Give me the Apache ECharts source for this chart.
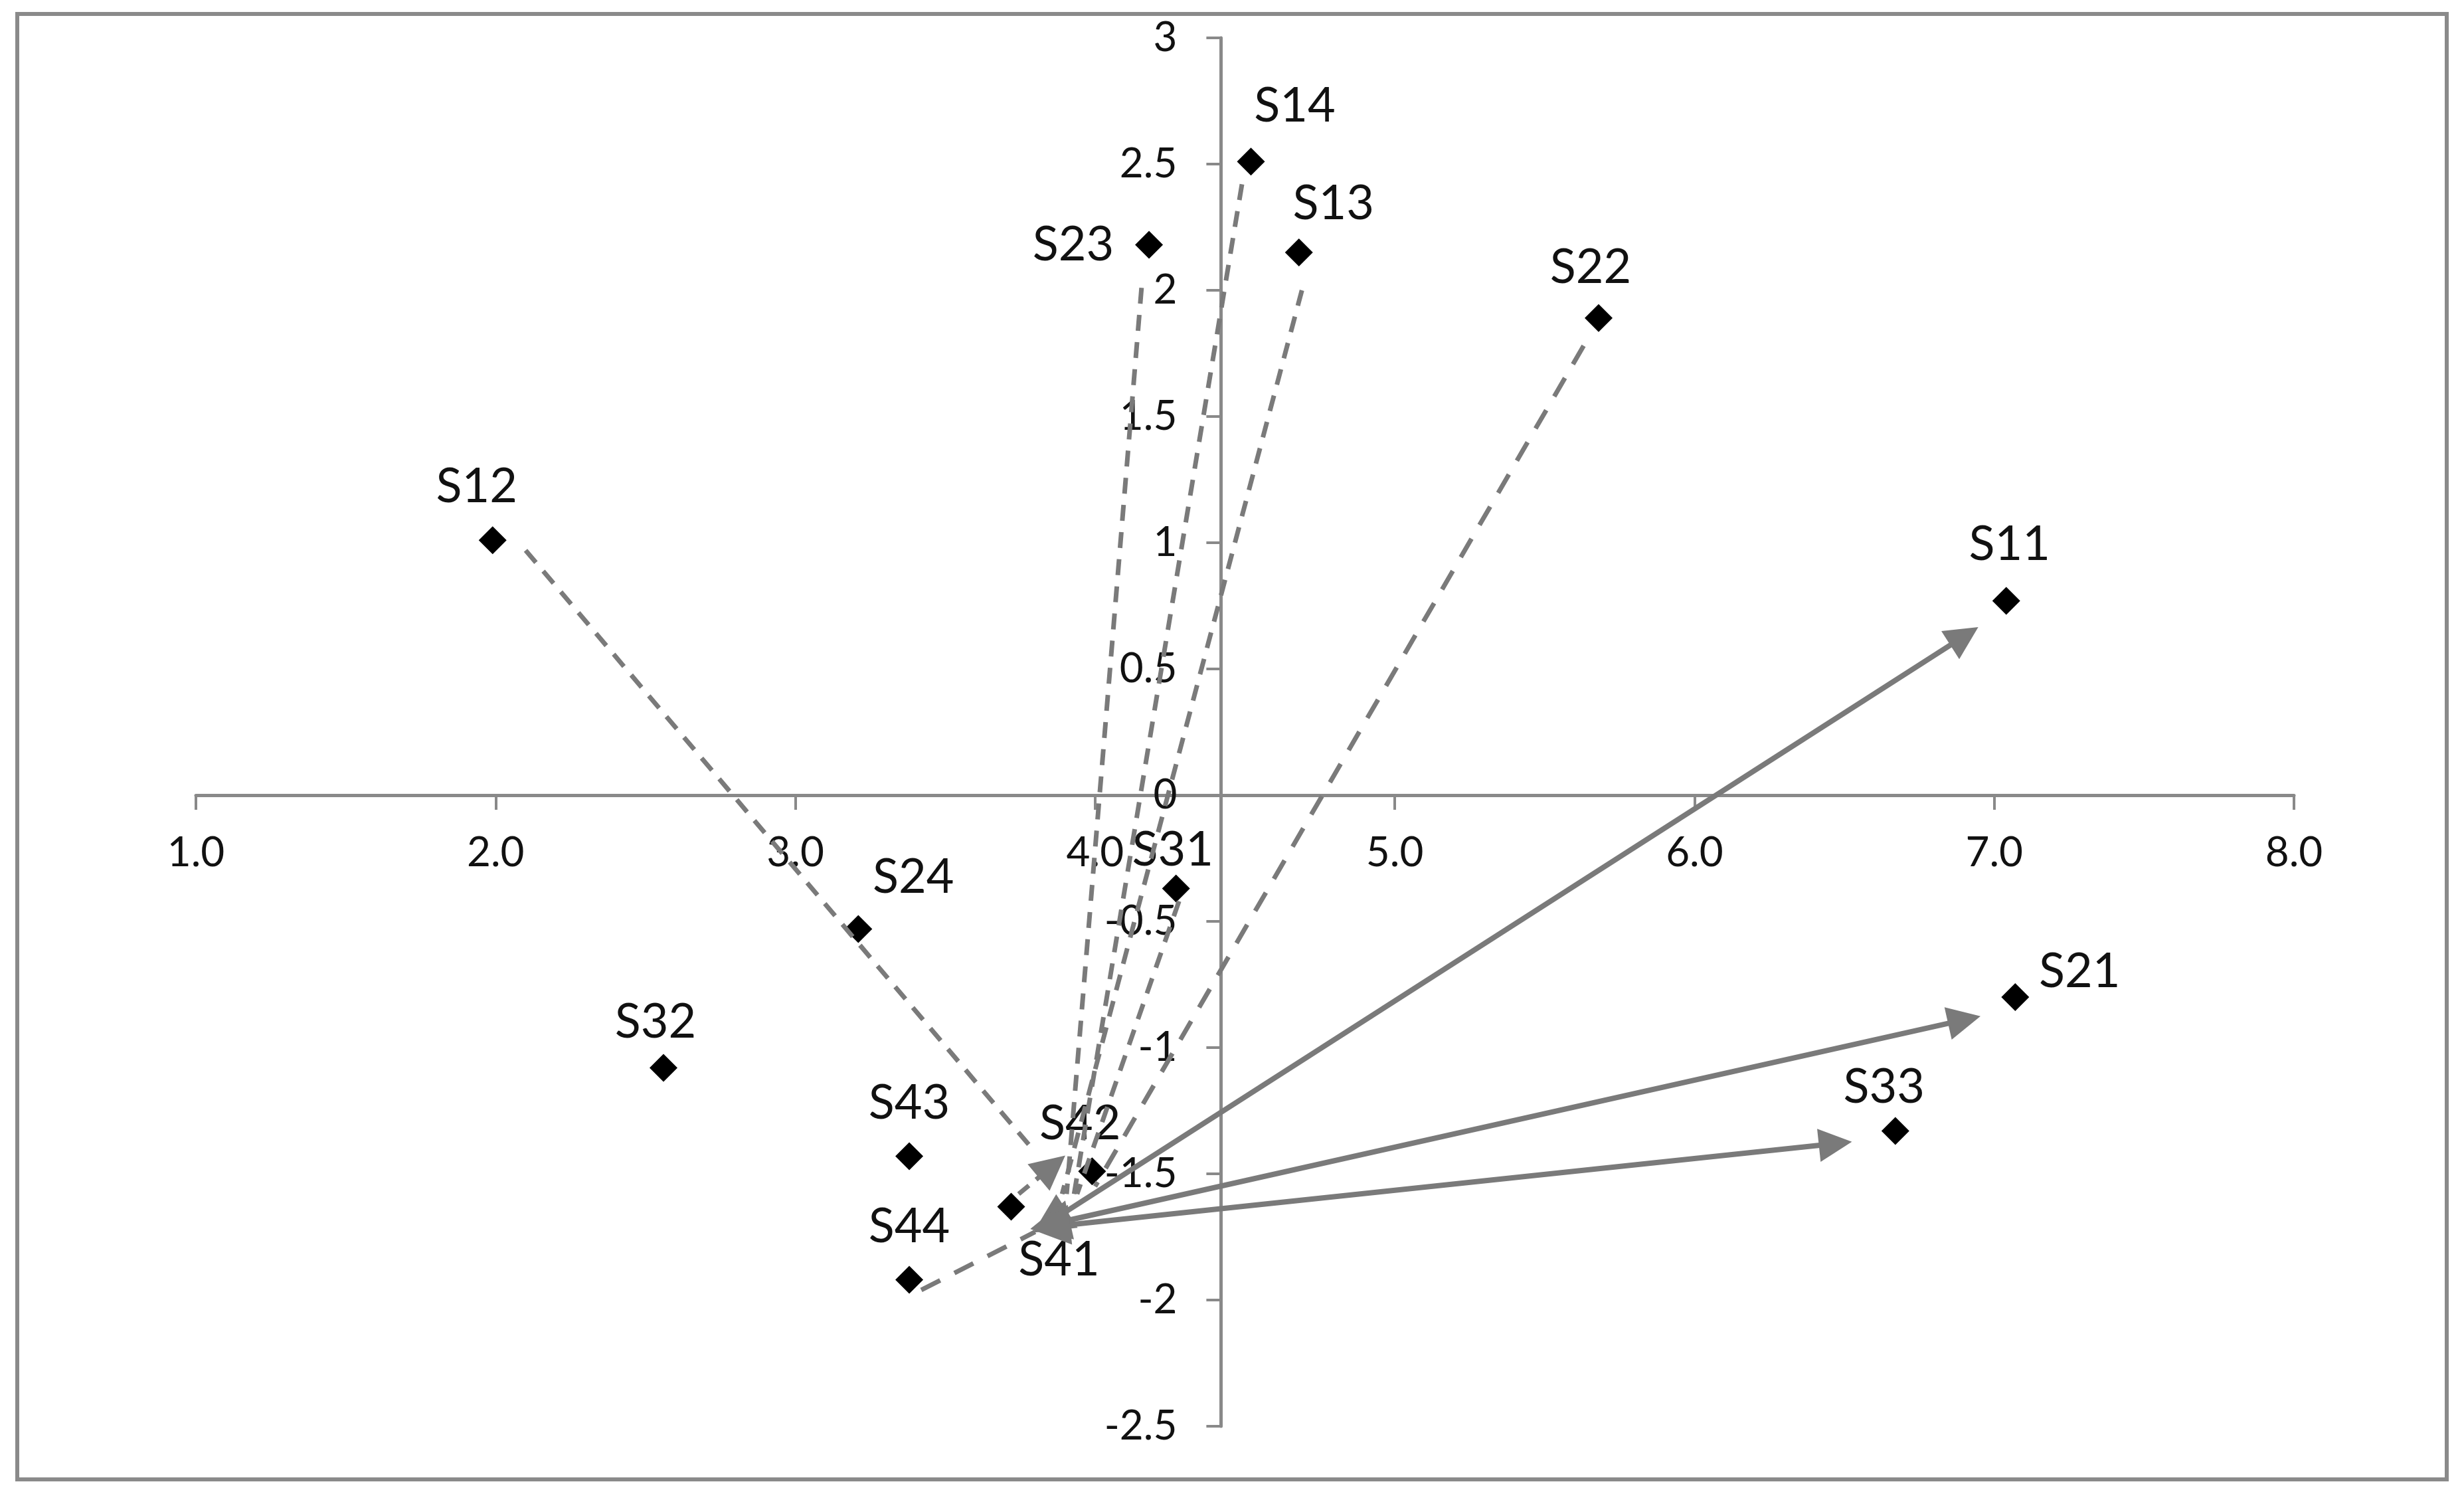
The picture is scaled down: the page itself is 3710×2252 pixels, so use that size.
<!DOCTYPE html>
<html>
<head>
<meta charset="utf-8">
<title>S scatter</title>
<script src="https://cdn.jsdelivr.net/npm/echarts@6/dist/echarts.min.js"></script>
<style>
html, body { margin: 0; padding: 0; background: #fff; }
#main { width: 3710px; height: 2252px; }
</style>
</head>
<body>
<div id="main"></div>
<script>
// point names and coordinates
var pointNames = ['S11', 'S12', 'S13', 'S14', 'S21', 'S22', 'S23', 'S24', 'S31', 'S32', 'S33', 'S41', 'S42', 'S43', 'S44'];
var pointX = [7.04, 1.99, 4.68, 4.52, 7.07, 5.68, 4.18, 3.21, 4.27, 2.56, 6.67, 3.72, 3.99, 3.38, 3.38];
var pointY = [0.77, 1.01, 2.15, 2.51, -0.80, 1.89, 2.18, -0.53, -0.37, -1.08, -1.33, -1.63, -1.49, -1.43, -1.92];

// axis ticks
var xMin = 1, xMax = 8, xStep = 1;
var yMin = -2.5, yMax = 3, yStep = 0.5;
var yAxisCrossX = 4.42; // vertical axis crosses here (mean of x)
var xAxisCrossY = 0;

// solid double arrows [x1, y1, x2, y2]
var solidArrows = [
	[3.85, -1.69, 6.90, 0.63],
	[3.85, -1.70, 6.90, -0.89],
	[3.85, -1.71, 6.47, -1.38]
];
// dashed lines [x1, y1, x2, y2]
var dashedShort = [
	[2.10, 0.97, 3.79, -1.40],  // S12
	[4.155, 2.01, 3.905, -1.58], // S23
	[4.49, 2.42, 3.93, -1.58],  // S14
	[4.69, 2.00, 3.89, -1.58],  // S13
	[4.28, -0.42, 3.94, -1.58]  // S31
];
var dashedLong = [
	[5.63, 1.78, 4.00, -1.55],  // S22
	[3.42, -1.96, 3.80, -1.73]  // S44
];
var dashedArrow = [
	[3.745, -1.58, 3.856, -1.471] // S41
];

// label offsets in px from the marker
var labelOffset = {
	S11: [5, -85], S12: [-24, -80], S13: [52, -73], S14: [66, -83],
	S21: [97, -38], S22: [-12, -76], S23: [-114, 0], S24: [83, -78],
	S31: [-5, -58], S32: [-12, -69], S33: [-17, -66],
	S41: [72, 80], S42: [-18, -71], S43: [0, -80], S44: [0, -80]
};

var axisColor = '#898989';
var lineColor = '#7a7a7a';
var textColor = '#111111';
var fontName = 'Lato';

function toLines(list) {
	return list.map(function (s) {
		return { coords: [[s[0], s[1]], [s[2], s[3]]] };
	});
}

var scatterData = pointNames.map(function (n, i) {
	return {
		name: n,
		value: [pointX[i], pointY[i]],
		label: { offset: labelOffset[n] }
	};
});

var chart = echarts.init(document.getElementById('main'), null, { renderer: 'canvas' });

var option = {
	animation: false,
	backgroundColor: '#ffffff',
	grid: {
		left: 295,
		right: 256,
		top: 57,
		bottom: 105,
		containLabel: false,
		outerBoundsMode: 'none'
	},
	graphic: [{
		type: 'rect',
		shape: { x: 26, y: 21, width: 3658, height: 2206 },
		style: { fill: 'none', stroke: '#8a8a8a', lineWidth: 6 },
		z: 0
	}],
	xAxis: {
		type: 'value',
		min: xMin,
		max: xMax,
		interval: xStep,
		axisLine: { onZero: false, lineStyle: { color: axisColor, width: 5 } },
		axisTick: { show: true, length: 22, lineStyle: { color: axisColor, width: 4 } },
		axisLabel: {
			margin: 56,
			color: textColor,
			fontFamily: fontName,
			fontSize: 62,
			formatter: function (v) { return v.toFixed(1); }
		},
		splitLine: { show: false }
	},
	yAxis: {
		type: 'value',
		min: yMin,
		max: yMax,
		interval: yStep,
		axisLine: { show: true, onZero: false, lineStyle: { color: axisColor, width: 5 } },
		axisTick: { show: true, length: 22, lineStyle: { color: axisColor, width: 4 } },
		axisLabel: {
			margin: 66,
			color: textColor,
			fontFamily: fontName,
			fontSize: 62
		},
		splitLine: { show: false }
	},
	series: [{
		type: 'scatter',
		symbol: 'diamond',
		symbolSize: 42,
		itemStyle: { color: '#000000', opacity: 1 },
		label: {
			show: true,
			position: 'inside',
			formatter: '{b}',
			color: textColor,
			fontFamily: fontName,
			fontSize: 72
		},
		z: 2,
		data: scatterData
	}, {
		type: 'lines',
		coordinateSystem: 'cartesian2d',
		symbol: ['triangle', 'triangle'],
		symbolSize: [60, 50],
		lineStyle: { color: lineColor, width: 8, type: 'solid', opacity: 1 },
		z: 4,
		data: toLines(solidArrows)
	}, {
		type: 'lines',
		coordinateSystem: 'cartesian2d',
		symbol: ['none', 'none'],
		lineStyle: { color: lineColor, width: 7, type: [24, 17], opacity: 1 },
		z: 3,
		data: toLines(dashedShort)
	}, {
		type: 'lines',
		coordinateSystem: 'cartesian2d',
		symbol: ['none', 'none'],
		lineStyle: { color: lineColor, width: 7, type: [32, 24], opacity: 1 },
		z: 3,
		data: toLines(dashedLong)
	}, {
		type: 'lines',
		coordinateSystem: 'cartesian2d',
		symbol: ['none', 'triangle'],
		symbolSize: 52,
		lineStyle: { color: lineColor, width: 7, type: [20, 14], opacity: 1 },
		z: 3,
		data: toLines(dashedArrow)
	}]
};

chart.setOption(option);

// move both axes in so they cross at (yAxisCrossX, xAxisCrossY)
var leftPx = chart.convertToPixel({ xAxisIndex: 0 }, xMin);
var crossPx = chart.convertToPixel({ xAxisIndex: 0 }, yAxisCrossX);
var bottomPx = chart.convertToPixel({ yAxisIndex: 0 }, yMin);
var zeroPx = chart.convertToPixel({ yAxisIndex: 0 }, xAxisCrossY);

chart.setOption({
	xAxis: { offset: -(bottomPx - zeroPx) },
	yAxis: { offset: -(crossPx - leftPx) }
});
</script>
</body>
</html>
